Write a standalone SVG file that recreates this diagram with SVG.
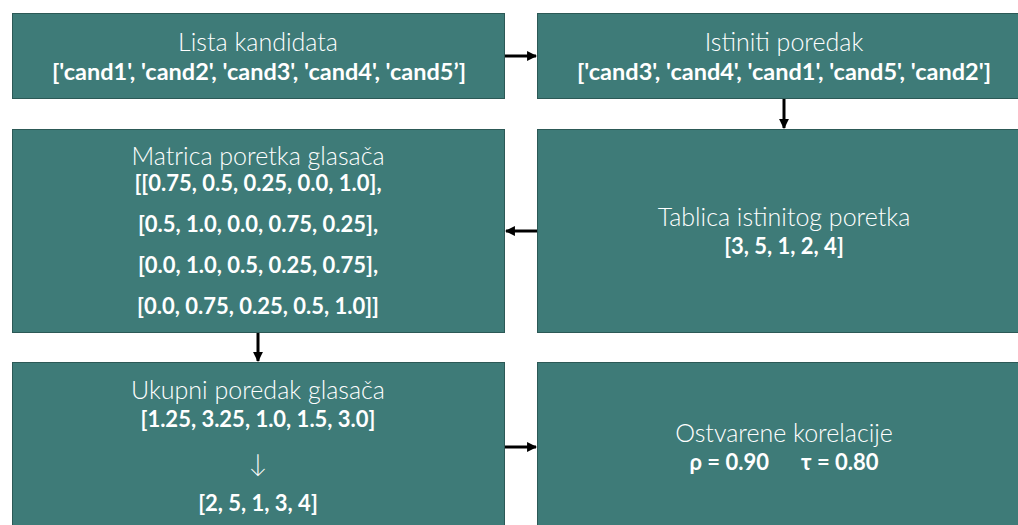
<svg xmlns="http://www.w3.org/2000/svg" width="1018" height="525" viewBox="0 0 1018 525">
<style>
.box{fill:#3e7b78;stroke:#2c5956;stroke-width:1}
.t{font-family:Lato,"Open Sans",sans-serif;font-weight:300;font-size:25px;fill:#ffffff;text-anchor:middle}
.b{font-family:Lato,"Open Sans",sans-serif;font-weight:700;font-size:22px;fill:#ffffff;text-anchor:middle}
.c{stroke:#000;stroke-width:3;fill:none;marker-end:url(#ah)}
</style>
<defs>
<marker id="ah" viewBox="0 0 10 10" refX="9" refY="5" markerWidth="3.3" markerHeight="3.3" orient="auto" markerUnits="strokeWidth">
<path d="M0,0 L10,5 L0,10 z" fill="#000"/>
</marker>
</defs>
<rect width="1018" height="525" fill="#ffffff"/>
<g id="n1"><rect class="box" x="12.5" y="13.5" width="492" height="85"/>
<text class="t" x="258" y="51">Lista kandidata</text>
<text class="b" x="259" y="80" textLength="414" lengthAdjust="spacingAndGlyphs">['cand1', 'cand2', 'cand3', 'cand4', 'cand5’]</text></g>
<g id="n2"><rect class="box" x="537.5" y="13.5" width="490" height="85"/>
<text class="t" x="784" y="51">Istiniti poredak</text>
<text class="b" x="784" y="80" textLength="414" lengthAdjust="spacingAndGlyphs">['cand3', 'cand4', 'cand1', 'cand5', 'cand2']</text></g>
<g id="n3"><rect class="box" x="12.5" y="129.5" width="492" height="203"/>
<text class="t" x="258" y="165">Matrica poretka glasača</text>
<text class="b" x="258" y="191">[[0.75, 0.5, 0.25, 0.0, 1.0],</text>
<text class="b" x="258" y="232">[0.5, 1.0, 0.0, 0.75, 0.25],</text>
<text class="b" x="258" y="273">[0.0, 1.0, 0.5, 0.25, 0.75],</text>
<text class="b" x="258" y="314">[0.0, 0.75, 0.25, 0.5, 1.0]]</text></g>
<g id="n4"><rect class="box" x="537.5" y="129.5" width="490" height="203"/>
<text class="t" x="784" y="226">Tablica istinitog poretka</text>
<text class="b" x="784" y="254">[3, 5, 1, 2, 4]</text></g>
<g id="n5"><rect class="box" x="12.5" y="362.5" width="492" height="180"/>
<text class="t" x="258" y="399">Ukupni poredak glasača</text>
<text class="b" x="258" y="427">[1.25, 3.25, 1.0, 1.5, 3.0]</text>
<text class="t" x="258" y="472">↓</text>
<text class="b" x="258" y="511">[2, 5, 1, 3, 4]</text></g>
<g id="n6"><rect class="box" x="537.5" y="362.5" width="490" height="180"/>
<text class="t" x="784" y="442">Ostvarene korelacije</text>
<text class="b" x="784" y="470" xml:space="preserve">ρ = 0.90      τ = 0.80</text></g>
<g id="connectors">
<line class="c" x1="505" y1="56" x2="536" y2="56"/>
<line class="c" x1="784" y1="99" x2="784" y2="128"/>
<line class="c" x1="537" y1="231" x2="506" y2="231"/>
<line class="c" x1="258" y1="333" x2="258" y2="361"/>
<line class="c" x1="505" y1="447" x2="536" y2="447"/>
</g>
</svg>
